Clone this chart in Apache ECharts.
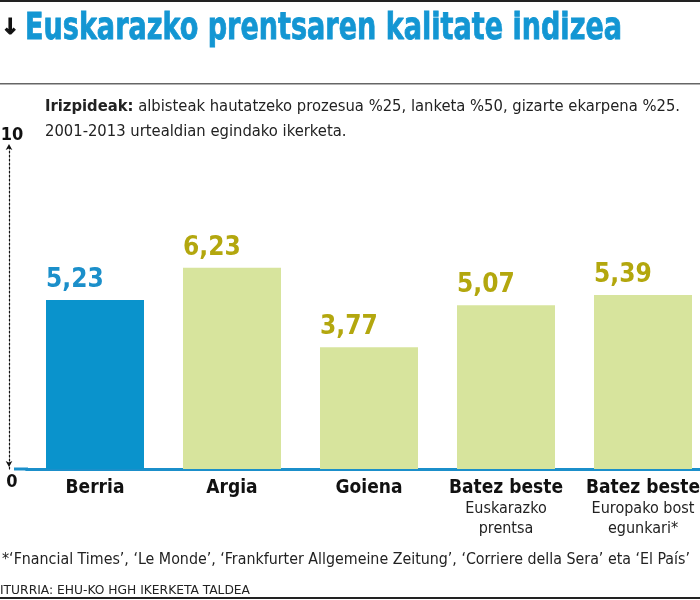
<!DOCTYPE html>
<html><head><meta charset="utf-8">
<script src="https://cdn.jsdelivr.net/npm/echarts@6/dist/echarts.min.js"></script>
<style>html,body{margin:0;padding:0;background:#fff}#c{width:700px;height:600px}</style>
</head><body><div id="c"></div>
<script>
const categories = ['Berria', 'Argia', 'Goiena', 'Batez beste', 'Batez beste'];
const subLabels = ['', '', '', 'Euskarazko\nprentsa', 'Europako bost\negunkari*'];
const values = [5.23, 6.23, 3.77, 5.07, 5.39];
const highlight = [true, false, false, false, false];
const yTicks = [0, 10];

const BLUE = '#0a93cc', GREEN = '#d7e49d', OLIVE = '#b3a70e', LBLUE = '#1b8fca';
const COND = '"DejaVu Sans Condensed", "DejaVu Sans", sans-serif';

const cv = document.createElement('canvas').getContext('2d');
function widthOf(text, font) { cv.font = font; return cv.measureText(text).width; }

const fmt = v => v.toFixed(2).replace('.', ',');

const titleText = 'Euskarazko prentsaren kalitate indizea';
const titleFont = 'bold 38px ' + COND;
const titleScale = 597 / widthOf(titleText, titleFont);

const subBold = 'Irizpideak:';
const subRest = ' albisteak hautatzeko prozesua %25, lanketa %50, gizarte ekarpena %25.';
const subLine2 = '2001-2013 urtealdian egindako ikerketa.';
const subFontB = 'bold 16px ' + COND, subFont = '16px ' + COND;
const subScale = 635 / (widthOf(subBold, subFontB) + widthOf(subRest, subFont));

const footText = '*‘Fnancial Times’, ‘Le Monde’, ‘Frankfurter Allgemeine Zeitung’, ‘Corriere della Sera’ eta ‘El País’';
const footFont = '16px ' + COND;
const footScale = 688 / widthOf(footText, footFont);

const srcText = 'ITURRIA: EHU-KO HGH IKERKETA TALDEA';
const srcFont = '13px ' + COND;
const srcScale = 250 / widthOf(srcText, srcFont);

const chart = echarts.init(document.getElementById('c'), null, {renderer: 'canvas'});

chart.setOption({
  animation: false,
  grid: {left: 26.5, right: -11.5, top: 146, bottom: 131, containLabel: false, outerBoundsMode: 'none'},
  xAxis: {
    type: 'category', data: categories,
    axisLine: {show: true, lineStyle: {color: LBLUE, width: 3}},
    axisTick: {show: false},
    axisLabel: {
      margin: 8, interval: 0,
      formatter: (v, i) => '{b|' + v + '}' + (subLabels[i] ? '\n' + subLabels[i].split('\n').map(s => '{s|' + s + '}').join('\n') : ''),
      rich: {
        b: {fontFamily: COND, fontWeight: 'bold', fontSize: 19, color: '#111', lineHeight: 22},
        s: {fontFamily: COND, fontSize: 16, color: '#222', lineHeight: 20}
      }
    }
  },
  yAxis: {
    type: 'value', min: 0, max: 10, interval: 10, offset: 17.5,
    splitLine: {show: false},
    axisTick: {show: false},
    axisLine: {show: true, symbol: ['arrow', 'arrow'], symbolSize: [5, 6], symbolOffset: [2, 2],
      lineStyle: {color: '#111', width: 1.2, type: [2, 2]}},
    axisLabel: {
      margin: -3, align: 'center',
      formatter: v => yTicks.includes(v) ? (v === 0 ? '{lo|0}' : '{hi|10}') : '',
      rich: {
        hi: {fontFamily: COND, fontWeight: 'bold', fontSize: 18, color: '#111', padding: [0, 0, 22, 0]},
        lo: {fontFamily: COND, fontWeight: 'bold', fontSize: 18, color: '#111', padding: [26, 0, 0, 0]}
      }
    }
  },
  series: [{
    type: 'bar', barWidth: 98,
    data: values.map((v, i) => ({
      value: v,
      itemStyle: {color: highlight[i] ? BLUE : GREEN},
      label: {color: highlight[i] ? LBLUE : OLIVE}
    })),
    label: {show: true, position: [0, -7], align: 'left', verticalAlign: 'bottom',
      formatter: p => fmt(p.value),
      fontFamily: COND, fontWeight: 'bold', fontSize: 26}
  }],
  graphic: [
    {type: 'rect', shape: {x: 0, y: 0, width: 700, height: 2}, style: {fill: '#222'}},
    {type: 'rect', shape: {x: 0, y: 83, width: 700, height: 1.5}, style: {fill: '#666'}},
    {type: 'rect', shape: {x: 0, y: 597, width: 700, height: 2}, style: {fill: '#222'}},
    {type: 'rect', shape: {x: 14, y: 467.5, width: 14, height: 3}, style: {fill: LBLUE}},
    {type: 'text', x: 1, y: 28, style: {text: '↓', font: 'bold 22px "DejaVu Sans"', fill: '#111', verticalAlign: 'middle', stroke: '#111', lineWidth: 1}},
    {type: 'text', x: 25, y: 29, scaleX: titleScale, style: {text: titleText, font: titleFont, fill: '#1396d3', verticalAlign: 'middle', stroke: '#1396d3', lineWidth: 0.8}},
    {type: 'text', x: 45, y: 94, scaleX: subScale, style: {
      text: '{b|' + subBold + '}' + subRest + '\n' + subLine2,
      font: subFont, fill: '#222', verticalAlign: 'top', lineHeight: 25,
      rich: {b: {font: subFontB, fill: '#222', lineHeight: 25}}}},
    {type: 'text', x: 2, y: 560, scaleX: footScale, style: {text: footText, font: footFont, fill: '#222', verticalAlign: 'middle'}},
    {type: 'text', x: 0, y: 591, scaleX: srcScale, style: {text: srcText, font: srcFont, fill: '#222', verticalAlign: 'middle'}}
  ]
});
</script></body></html>
